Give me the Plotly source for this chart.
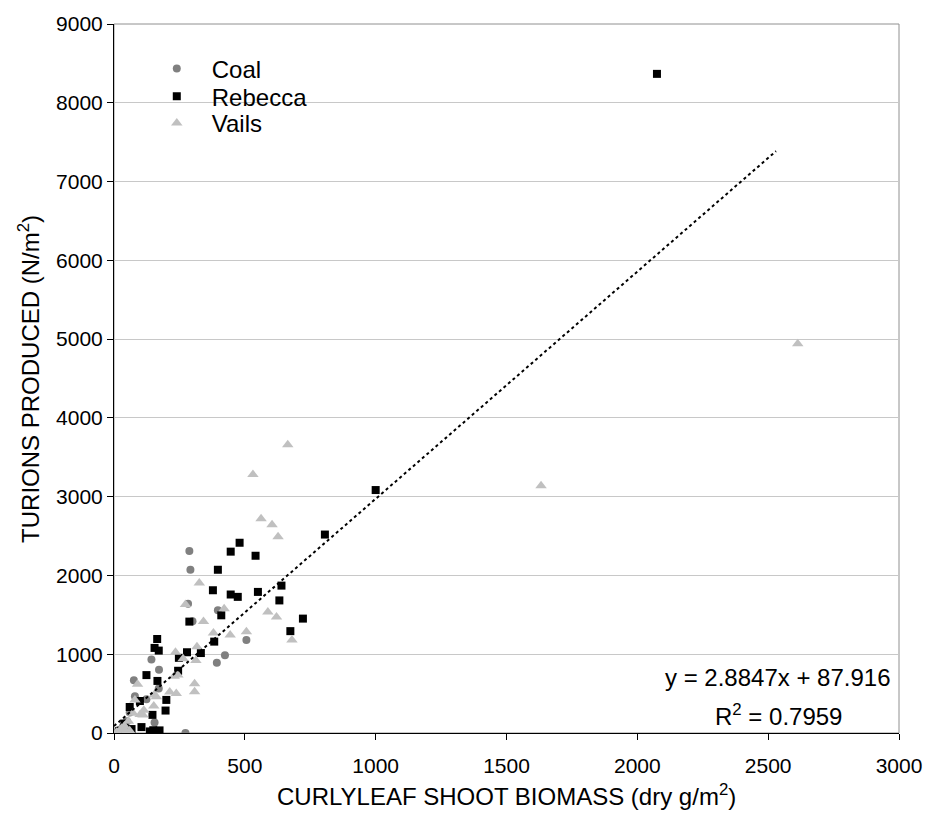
import plotly.graph_objects as go

# ---- data ----
coal_x = [288, 292, 283, 397, 300, 506, 424, 393, 143, 172, 76, 171, 124, 80, 155, 273, 20, 35, 50, 12, 60]
coal_y = [2311, 2072, 1640, 1557, 1420, 1180, 987, 891, 933, 804, 669, 565, 427, 468, 133, 0, 40, 90, 150, 15, 260]

rebecca_x = [2075, 1000, 806, 480, 446, 541, 397, 640, 550, 378, 446, 473, 632, 410, 722, 288, 674,
             383, 165, 155, 171, 279, 332, 248, 245, 124, 166, 99, 200, 197, 147, 67, 105, 137, 150,
             174, 40, 60, 20]
rebecca_y = [8367, 3084, 2519, 2415, 2302, 2250, 2072, 1871, 1791, 1812, 1758, 1728, 1683, 1494, 1452,
             1414, 1293, 1160, 1193, 1080, 1046, 1025, 1015, 954, 790, 735, 661, 406, 420, 285, 230, 50,
             75, 20, 35, 33, 120, 330, 25]

vails_x = [2613, 1632, 664, 531, 562, 604, 627, 588, 621, 680, 326, 273, 421, 342, 380, 444, 506, 235,
           317, 313, 264, 230, 244, 308, 308, 213, 238, 90, 80, 162, 153, 152, 111, 73, 114, 100, 10,
           25, 40, 55, 30, 15, 60, 45]
vails_y = [4940, 3140, 3660, 3280, 2720, 2645, 2490, 1536, 1473, 1180, 1904, 1632, 1577, 1415, 1270,
           1245, 1285, 1025, 1095, 920, 942, 720, 735, 625, 523, 520, 500, 620, 418, 460, 481, 343, 230,
           251, 290, 235, 10, 40, 90, 150, 60, 5, 30, 20]

trend_slope = 2.8847
trend_intercept = 87.916
trend_x = [0, 2530]
trend_y = [trend_slope * v + trend_intercept for v in trend_x]

x_ticks = [0, 500, 1000, 1500, 2000, 2500, 3000]
y_ticks = [0, 1000, 2000, 3000, 4000, 5000, 6000, 7000, 8000, 9000]

FONT = "Liberation Sans, Arial, sans-serif"

fig = go.Figure()
fig.add_trace(go.Scatter(x=coal_x, y=coal_y, mode="markers", name="Coal", legend="legend",
                         marker=dict(symbol="circle", size=8, color="#808080")))
fig.add_trace(go.Scatter(x=rebecca_x, y=rebecca_y, mode="markers", name="Rebecca", legend="legend2",
                         marker=dict(symbol="square", size=8, color="#000000")))
fig.add_trace(go.Scatter(x=vails_x, y=vails_y, mode="markers", name="Vails", legend="legend3",
                         marker=dict(symbol="triangle-up", size=10, color="#c0c0c0")))
fig.add_trace(go.Scatter(x=trend_x, y=trend_y, mode="lines", showlegend=False,
                         line=dict(color="#000000", width=2, dash="3px,3px")))

legend_common = dict(xanchor="left", yanchor="middle", bgcolor="rgba(0,0,0,0)", borderwidth=0,
                     itemwidth=60, font=dict(size=24, family=FONT))

fig.update_layout(
    width=934, height=823,
    margin=dict(l=114, r=29, t=17, b=90),
    plot_bgcolor="white", paper_bgcolor="white",
    font=dict(family=FONT, color="#000000"),
    showlegend=True,
    legend=dict(x=0.0354, y=0.9366, **legend_common),
    legend2=dict(x=0.0354, y=0.8975, **legend_common),
    legend3=dict(x=0.0354, y=0.8598, **legend_common),
    xaxis=dict(range=[0, 3000], tickvals=x_ticks, showgrid=False, zeroline=False,
               showline=True, linecolor="#000000", linewidth=1,
               ticks="outside", ticklen=6, tickcolor="#000000",
               tickfont=dict(size=21, family=FONT), ticklabelstandoff=8),
    yaxis=dict(range=[0, 9000], tickvals=y_ticks, showgrid=True, gridcolor="#c8c8c8",
               gridwidth=1, zeroline=False, showline=True, linecolor="#000000", linewidth=1,
               ticks="outside", ticklen=6, tickcolor="#000000",
               tickfont=dict(size=21, family=FONT)),
    shapes=[
        dict(type="rect", xref="paper", yref="paper", x0=0, x1=1, y0=0, y1=1,
             line=dict(color="#909090", width=1), layer="below"),
        # white legend background that interrupts the gridline
        dict(type="rect", xref="paper", yref="paper", x0=0.0556, x1=0.2756, y0=0.835, y1=0.9535,
             fillcolor="white", line=dict(width=0), layer="between"),
    ],
    annotations=[
        dict(text="CURLYLEAF SHOOT BIOMASS (dry g/m<sup>2</sup>)", xref="paper", yref="paper",
             x=0.5, y=-0.088, xanchor="center", yanchor="middle", showarrow=False,
             font=dict(size=24, family=FONT)),
        dict(text="TURIONS PRODUCED (N/m<sup>2</sup>)", xref="paper", yref="paper",
             x=-0.109, y=0.5, xanchor="center", yanchor="middle", textangle=-90,
             showarrow=False, font=dict(size=24, family=FONT)),
        dict(text="y = 2.8847x + 87.916", xref="paper", yref="paper",
             x=0.846, y=0.0786, xanchor="center", yanchor="middle", showarrow=False,
             font=dict(size=24, family=FONT)),
        dict(text="R<sup>2</sup> = 0.7959", xref="paper", yref="paper",
             x=0.846, y=0.0255, xanchor="center", yanchor="middle", showarrow=False,
             font=dict(size=24, family=FONT)),
    ],
)

fig.write_html("out.html")
